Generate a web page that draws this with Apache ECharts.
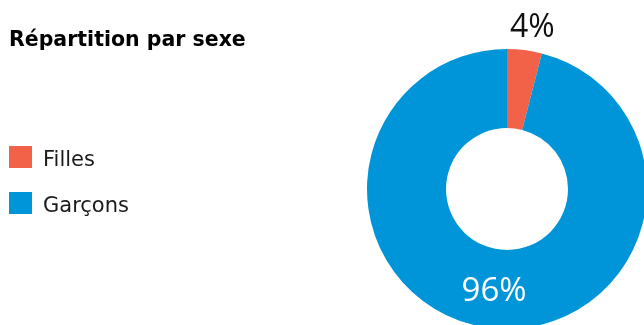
<!DOCTYPE html>
<html>
<head>
<meta charset="utf-8">
<script src="https://cdn.jsdelivr.net/npm/echarts@6/dist/echarts.min.js"></script>
<style>html,body{margin:0;padding:0;background:#fff;}#c{width:644px;height:325px;}</style>
</head>
<body>
<div id="c"></div>
<script>
const titleText = 'Répartition par sexe';
const categories = ['Filles', 'Garçons'];
const values = [4, 96];
const colors = ['#F26249', '#0095D8'];

const chart = echarts.init(document.getElementById('c'), null, {renderer: 'canvas'});
const data = categories.map((name, i) => ({
  name: name,
  value: values[i],
  itemStyle: {color: colors[i]},
  label: i === 0
    ? {position: 'outside', color: '#111', fontSize: 32}
    : {position: 'inside', color: '#fff', fontSize: 33}
}));
chart.setOption({
  animation: false,
  title: {
    text: titleText,
    left: 4, top: 25,
    textStyle: {fontFamily: 'DejaVu Sans, sans-serif', fontWeight: 'bold', fontSize: 20.5, color: '#000'}
  },
  legend: {
    orient: 'vertical',
    left: 4, top: 141,
    itemWidth: 23, itemHeight: 29, itemGap: 17,
    icon: 'path://M0,0H23V22H0Z M23,29',
    data: categories,
    textStyle: {fontFamily: 'DejaVu Sans, sans-serif', fontSize: 21, color: '#1a1a1a', padding: [0, 0, 0, 6]}
  },
  series: [{
    type: 'pie',
    center: [507, 189],
    radius: [61, 140],
    startAngle: 90,
    clockwise: true,
    silent: true,
    label: {
      show: true,
      formatter: '{c}%',
      fontFamily: 'Open Sans, sans-serif'
    },
    labelLine: {show: false, length: 22, length2: 0},
    labelLayout: {align: 'center'},
    data: data
  }]
});
</script>
</body>
</html>
